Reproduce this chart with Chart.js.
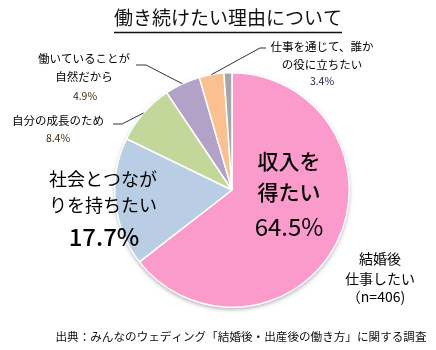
<!DOCTYPE html>
<html>
<head>
<meta charset="utf-8">
<script src="https://cdn.jsdelivr.net/npm/chart.js@4"></script>
<style>
  body { margin: 0; background: #fff; }
  canvas { display: block; }
</style>
</head>
<body>
<canvas id="myChart" width="436" height="350"></canvas>
<script>
// データ
const categories = ['収入を得たい', '社会とつながりを持ちたい', '自分の成長のため', '働いていることが自然だから', '仕事を通じて、誰かの役に立ちたい', 'その他'];
const shares = [64.5, 17.7, 8.4, 4.9, 3.4, 1.1];
const sliceColors = ['#FB9BCC', '#B9CDE5', '#C4D79B', '#B3A2C7', '#FAC090', '#A6A6A6'];
const pctLabels = ['64.5%', '17.7%', '8.4%', '4.9%', '3.4%', ''];

const JP = '"Noto Sans CJK JP", "Noto Sans", sans-serif';

function text(ctx, str, x, y, font, color) {
    ctx.font = font;
    ctx.fillStyle = color || '#000';
    ctx.textAlign = 'center';
    ctx.textBaseline = 'middle';
    ctx.fillText(str, x, y);
}

// 円の影
const pieShadow = {
    id: 'pieShadow',
    beforeDatasetsDraw(chart) {
        const { ctx } = chart;
        const arc = chart.getDatasetMeta(0).data[0];
        ctx.save();
        ctx.shadowColor = 'rgba(0,0,0,0.35)';
        ctx.shadowBlur = 4;
        ctx.shadowOffsetY = 2;
        ctx.fillStyle = '#fff';
        ctx.beginPath();
        ctx.arc(arc.x, arc.y, arc.outerRadius, 0, Math.PI * 2);
        ctx.fill();
        ctx.restore();
    }
};

// ラベルと引き出し線
const pieLabels = {
    id: 'pieLabels',
    afterDatasetsDraw(chart) {
        const { ctx } = chart;
        const arcs = chart.getDatasetMeta(0).data;
        const cx = arcs[0].x, cy = arcs[0].y;

        // 引き出し線の始点 (各スライスの中央角の外周)
        const edge = (i) => {
            const a = arcs[i];
            const mid = (a.startAngle + a.endAngle) / 2;
            return [a.x + Math.cos(mid) * a.outerRadius, a.y + Math.sin(mid) * a.outerRadius];
        };

        ctx.save();
        ctx.strokeStyle = '#333';
        ctx.lineWidth = 1;
        const leader = (i, pts) => {
            const [sx, sy] = edge(i);
            ctx.beginPath();
            ctx.moveTo(sx, sy);
            pts.forEach(p => ctx.lineTo(p[0], p[1]));
            ctx.stroke();
        };
        leader(4, [[260, 48], [266, 48]]);
        leader(3, [[146, 65], [136, 65]]);
        leader(2, [[122, 124], [113, 124]]);

        const small = '11.5px ' + JP;
        const pct = '10.5px ' + JP;

        // 仕事を通じて、誰かの役に立ちたい
        text(ctx, '仕事を通じて、誰か', 322, 47, small);
        text(ctx, 'の役に立ちたい', 322, 65, small);
        text(ctx, pctLabels[4], 322, 81, pct, '#1a1a40');

        // 働いていることが自然だから
        text(ctx, '働いていることが', 84, 59, small);
        text(ctx, '自然だから', 84, 77, small);
        text(ctx, pctLabels[3], 85, 96, pct, '#402a10');

        // 自分の成長のため
        text(ctx, '自分の成長のため', 58, 121, small);
        text(ctx, pctLabels[2], 58, 138, pct, '#402a10');

        // 社会とつながりを持ちたい
        text(ctx, '社会とつなが', 103, 179, '18px ' + JP);
        text(ctx, 'りを持ちたい', 103, 205, '18px ' + JP);
        text(ctx, pctLabels[1], 104, 237, '500 24px ' + JP);

        // 収入を得たい
        text(ctx, '収入を', cx + 57, 161, '500 21px ' + JP);
        text(ctx, '得たい', cx + 57, 192, '500 21px ' + JP);
        text(ctx, pctLabels[0], cx + 57, 227, '24px ' + JP);

        // n
        text(ctx, '結婚後', 380, 259, '14px ' + JP);
        text(ctx, '仕事したい', 380, 279, '14px ' + JP);
        text(ctx, '（n=406)', 376, 297, '14px ' + JP);

        // タイトル
        text(ctx, '働き続けたい理由について', 228, 18, '19px ' + JP, '#111');
        ctx.font = '19px ' + JP;
        const tw = ctx.measureText('働き続けたい理由について').width;
        ctx.strokeStyle = '#111';
        ctx.lineWidth = 1.3;
        ctx.beginPath();
        ctx.moveTo(228 - tw / 2, 32.5);
        ctx.lineTo(228 + tw / 2, 32.5);
        ctx.stroke();

        // 出典
        text(ctx, '出典：みんなのウェディング「結婚後・出産後の働き方」に関する調査', 241, 337, '11.6px ' + JP, '#111');
        ctx.restore();
    }
};

const config = {
    type: 'pie',
    data: {
        labels: categories,
        datasets: [{
            data: shares,
            backgroundColor: sliceColors,
            borderColor: '#fff',
            borderWidth: 1.5
        }]
    },
    options: {
        responsive: false,
        animation: false,
        devicePixelRatio: 1,
        layout: {
            padding: { left: 114, right: 86, top: 72, bottom: 42 }
        },
        plugins: {
            legend: { display: false },
            tooltip: { enabled: false },
            title: { display: false }
        }
    },
    plugins: [pieShadow, pieLabels]
};

const myChart = new Chart(document.getElementById('myChart'), config);
</script>
</body>
</html>
